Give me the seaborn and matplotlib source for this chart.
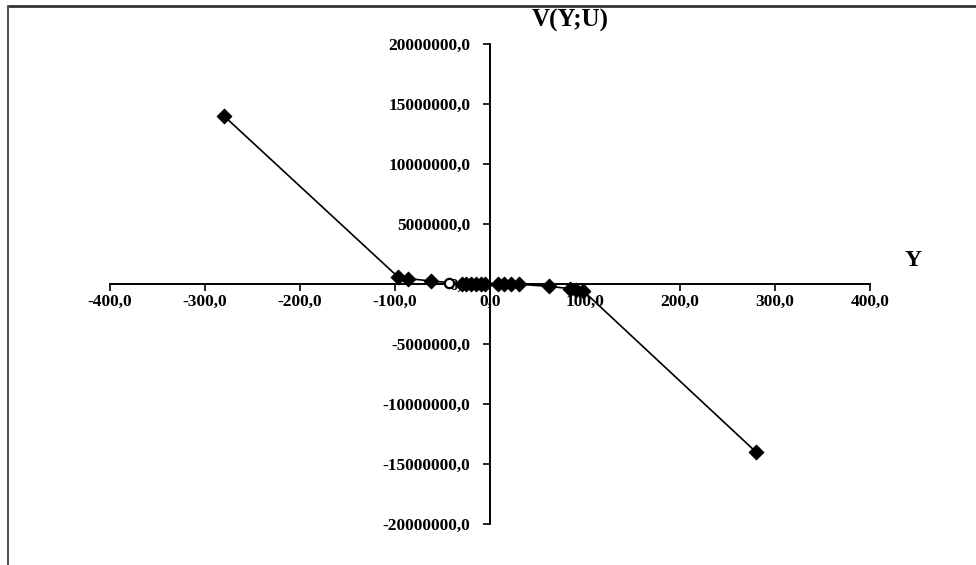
import numpy as np
import pandas as pd
import seaborn as sns
import matplotlib.pyplot as plt
from matplotlib.ticker import FuncFormatter
from matplotlib.lines import Line2D

# values (Y, V(Y;U))
y_vals = [-280, -97, -86, -62, -30, -25, -20, -15, -10, -5,
          8, 15, 22, 30, 62, 84, 91, 98, 280]
v_vals = [14000000, 600000, 450000, 250000, 30000, 20000, 10000, 5000, 2000, 500,
          -500, -2000, -7000, -17000, -200000, -380000, -470000, -560000, -14000000]
# the lone hollow point near -43
hollow_y = [-43]
hollow_v = [80000]

x_ticks = [-400, -300, -200, -100, 0, 100, 200, 300, 400]
y_ticks = [-20000000, -15000000, -10000000, -5000000, 0,
           5000000, 10000000, 15000000, 20000000]

df = pd.DataFrame({"Y": y_vals, "V": v_vals})
df_h = pd.DataFrame({"Y": hollow_y, "V": hollow_v})

sns.set_style("white")
plt.rcParams['font.family'] = ['Liberation Serif', 'DejaVu Serif']
plt.rcParams['text.color'] = 'black'

fig = plt.figure(figsize=(9.76, 5.65), dpi=100)
ax = fig.add_axes([110 / 976, 41 / 565, 760 / 976, 480 / 565])

sns.lineplot(data=df, x="Y", y="V", sort=False, color="black", linewidth=1.2, ax=ax)
sns.scatterplot(data=df, x="Y", y="V", marker="D", s=55, color="black",
                edgecolor="black", linewidth=0.8, ax=ax, zorder=3)
sns.scatterplot(data=df_h, x="Y", y="V", marker="o", s=45, facecolor="white",
                edgecolor="black", linewidth=1.6, ax=ax, zorder=3)

ax.set_xlim(x_ticks[0], x_ticks[-1])
ax.set_ylim(y_ticks[0], y_ticks[-1])
ax.set_xticks(x_ticks)
ax.set_yticks(y_ticks)

fmt = FuncFormatter(lambda v, p: f"{v:.1f}".replace(".", ","))
ax.xaxis.set_major_formatter(fmt)
ax.yaxis.set_major_formatter(fmt)

ax.spines["left"].set_position(("data", 0))
ax.spines["bottom"].set_position(("data", 0))
ax.spines["top"].set_visible(False)
ax.spines["right"].set_visible(False)
for s in ["left", "bottom"]:
    ax.spines[s].set_color("black")
    ax.spines[s].set_linewidth(1.4)

ax.tick_params(axis="x", direction="out", length=5, width=1.2, pad=2,
               labelsize=12.5, bottom=True, colors="black")
ax.tick_params(axis="y", direction="out", length=5, width=1.2, pad=9,
               labelsize=12.5, left=True, colors="black")
for lab in ax.get_xticklabels() + ax.get_yticklabels():
    lab.set_fontweight("bold")
ax.set_xlabel("")
ax.set_ylabel("")

fig.text(570 / 976, 1 - 20 / 565, "V(Y;U)", ha="center", va="center",
         fontsize=18, fontweight="bold", color="black")
fig.text(913 / 976, 1 - 260 / 565, "Y", ha="center", va="center",
         fontsize=17, fontweight="bold", color="black")

# frame lines of the original screenshot
fig.add_artist(Line2D([8 / 976, 1], [1 - 6 / 565, 1 - 6 / 565], color="#333333", linewidth=2))
fig.add_artist(Line2D([8 / 976, 8 / 976], [0, 1 - 6 / 565], color="#555555", linewidth=1.5))

fig.savefig("out.png", dpi=100)
